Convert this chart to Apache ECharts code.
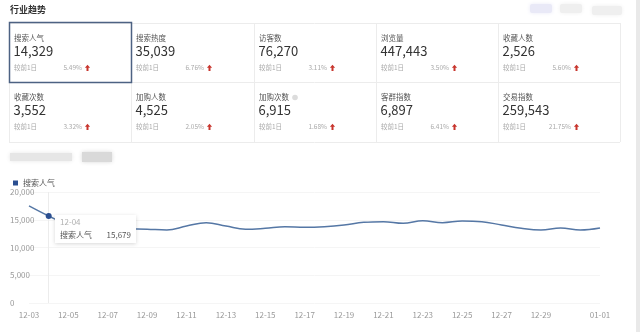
<!DOCTYPE html>
<html><head><meta charset="utf-8">
<script src="https://cdn.jsdelivr.net/npm/echarts@6/dist/echarts.min.js"></script>
<style>html,body{margin:0;padding:0;background:#fff}#c{width:640px;height:332px}</style>
</head><body><div id="c"></div>
<script>
const categories = ['12-03','12-04','12-05','12-06','12-07','12-08','12-09','12-10','12-11','12-12','12-13','12-14','12-15','12-16','12-17','12-18','12-19','12-20','12-21','12-22','12-23','12-24','12-25','12-26','12-27','12-28','12-29','12-30','12-31','01-01'];
const searchPopularity = [17500,15679,14100,13600,13500,13400,13300,13150,13870,14470,13870,13280,13460,13750,13640,13750,14050,14530,14650,14350,14830,14470,14770,14650,14050,13460,13150,13510,13150,13510];
const yTicks = [0,5000,10000,15000,20000];
const cardLabels = ['搜索人气','搜索热度','访客数','浏览量','收藏人数','收藏次数','加购人数','加购次数','客群指数','交易指数'];
const cardValues = ['14,329','35,039','76,270','447,443','2,526','3,552','4,525','6,915','6,897','259,543'];
const cardChanges = ['5.49%','6.76%','3.11%','3.50%','5.60%','3.32%','2.05%','1.68%','6.41%','21.75%'];
const footerText = '较前1日';
const seriesName = '搜索人气';
const tipIndex = 1;

const FONT = '"Noto Sans CJK SC","Noto Sans",sans-serif';
const chart = echarts.init(document.getElementById('c'));
const colX = [9,131,254,376,498], colW = 122, rowY = [23,82], rowH = 60;
const g = [];
g.push({type:'rect', shape:{x:636,y:0,width:4,height:332}, style:{fill:'#e9e9e9'}, silent:true});
g.push({type:'text', x:10, y:10, style:{text:'行业趋势', font:'bold 9px '+FONT, fill:'#333', align:'left', verticalAlign:'middle'}});
g.push({type:'rect', shape:{x:530,y:4,width:22,height:9,r:2}, style:{fill:'#e9e9f7', shadowBlur:4, shadowColor:'#e9e9f7'}});
g.push({type:'rect', shape:{x:560,y:4,width:22,height:9,r:2}, style:{fill:'#efefef', shadowBlur:4, shadowColor:'#efefef'}});
g.push({type:'rect', shape:{x:592,y:6,width:30,height:9,r:2}, style:{fill:'#efefef', shadowBlur:4, shadowColor:'#efefef'}});
const lc = '#ececec';
[23,82,142].forEach(y => g.push({type:'line', shape:{x1:9,y1:y+0.5,x2:620,y2:y+0.5}, style:{stroke:lc,lineWidth:1}}));
colX.concat([620]).forEach(x => g.push({type:'line', shape:{x1:x+0.5,y1:23,x2:x+0.5,y2:142}, style:{stroke:lc,lineWidth:1}}));
cardLabels.forEach((lab,i) => {
  const cx = colX[i%5], cy = rowY[Math.floor(i/5)];
  const ly = cy + (i<5?15:15.5);
  g.push({type:'text', x:cx+5, y:ly, style:{text:lab, font:'7.5px '+FONT, fill:'#555', align:'left', verticalAlign:'middle'}});
  if (i===7) g.push({type:'circle', shape:{cx:cx+41, cy:ly, r:2.8}, style:{fill:'#dcdcdc'}});
  g.push({type:'text', x:cx+4.5, y:cy+28.5, style:{text:cardValues[i], font:'13px '+FONT, fill:'#333', align:'left', verticalAlign:'middle'}});
  g.push({type:'text', x:cx+5, y:cy+45, style:{text:footerText, font:'6.5px '+FONT, fill:'#aaa', align:'left', verticalAlign:'middle'}});
  g.push({type:'text', x:cx+73, y:cy+45, style:{text:cardChanges[i], font:'6.5px '+FONT, fill:'#aaa', align:'right', verticalAlign:'middle'}});
  const ax = cx+78.5, ay = cy+45;
  g.push({type:'polygon', shape:{points:[[ax,ay-3.2],[ax+2.6,ay-0.2],[ax+1,ay-0.2],[ax+1,ay+3],[ax-1,ay+3],[ax-1,ay-0.2],[ax-2.6,ay-0.2]]}, style:{fill:'#c8352d'}});
});
g.push({type:'rect', shape:{x:9.5,y:22.5,width:122,height:60}, style:{fill:'none', stroke:'#4d6283', lineWidth:1.5}});
g.push({type:'rect', shape:{x:10,y:153,width:62,height:8}, style:{fill:'#e6e6e6', shadowBlur:4, shadowColor:'#e6e6e6'}});
g.push({type:'rect', shape:{x:82,y:152,width:30,height:10}, style:{fill:'#d9d9d9', shadowBlur:4, shadowColor:'#d9d9d9'}});

chart.setOption({
  animation:false,
  textStyle:{fontFamily:FONT},
  graphic:g,
  legend:{left:8, top:174, icon:'rect', itemWidth:5, itemHeight:5, itemGap:4, textStyle:{fontSize:8, color:'#555', fontFamily:FONT}, data:[seriesName]},
  grid:{left:29, right:40, top:192, bottom:29, outerBoundsMode:'none'},
  tooltip:{trigger:'axis', alwaysShowContent:true, transitionDuration:0, backgroundColor:'#fff', borderWidth:0, padding:[0,5,2,5],
    extraCssText:'box-shadow:0 1px 4px rgba(0,0,0,0.16);border-radius:0;',
    axisPointer:{type:'line', z:0, lineStyle:{color:'#ececec', width:1, type:'solid'}},
    position:function(p){ return [p[0]+6, p[1]-1]; },
    formatter:function(ps){ const p = ps[0];
      return '<div style="width:71px;font-size:8px;line-height:13px;font-family:'+FONT.replace(/"/g,"'")+'">'+
        '<div style="color:#b0b0b0">'+p.name+'</div>'+
        '<div style="display:flex;justify-content:space-between;color:#555"><span>'+p.seriesName+'</span><span>'+p.value.toLocaleString('en-US')+'</span></div></div>'; }
  },
  xAxis:{type:'category', data:categories, boundaryGap:false,
    axisLine:{show:false}, axisTick:{show:false},
    axisLabel:{fontSize:8, color:'#999', margin:8, interval:function(i){ return (i%2===0 && i<28) || i===categories.length-1; }}},
  yAxis:{type:'value', min:yTicks[0], max:yTicks[yTicks.length-1], interval:yTicks[1]-yTicks[0],
    axisLine:{show:false}, axisTick:{show:false},
    splitLine:{lineStyle:{color:'#f5f5f5'}},
    axisLabel:{fontSize:8, color:'#999', align:'left', margin:19, formatter:function(v){ return v.toLocaleString('en-US'); }}},
  series:[{name:seriesName, type:'line', z:5, data:searchPopularity, smooth:0.4, showSymbol:false, symbol:'circle', symbolSize:6,
    lineStyle:{color:'#4e6d96', width:1.5}, itemStyle:{color:'#2b4f91', borderColor:'#2b4f91', borderWidth:0},
    emphasis:{scale:false, itemStyle:{color:'#2b4f91', borderColor:'#2b4f91', borderWidth:0}}}]
});
chart.dispatchAction({type:'showTip', seriesIndex:0, dataIndex:tipIndex});
</script></body></html>
